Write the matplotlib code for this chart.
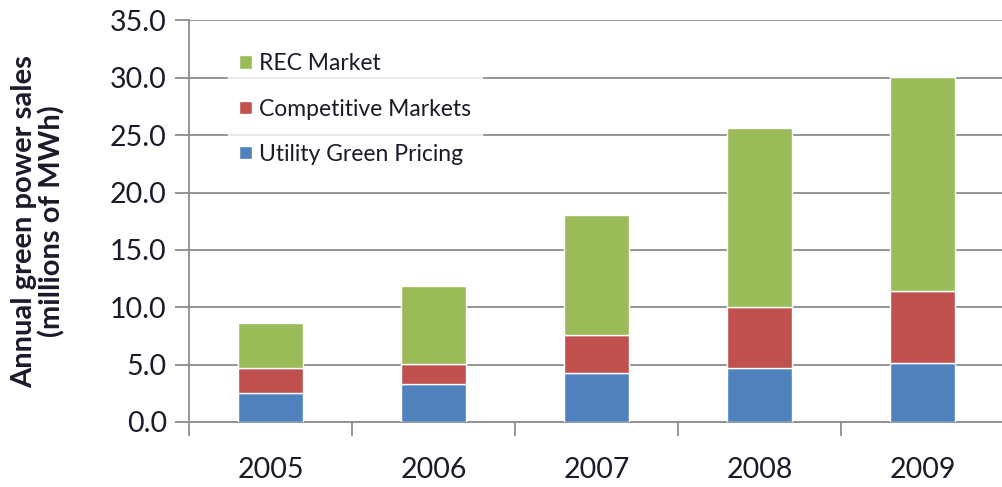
import matplotlib
matplotlib.use("Agg")
import matplotlib.pyplot as plt
import numpy as np

years = ["2005", "2006", "2007", "2008", "2009"]
utility_green_pricing = [2.5, 3.35, 4.3, 4.75, 5.15]
competitive_markets = [2.23, 1.67, 3.25, 5.3, 6.3]
rec_market = [3.92, 6.82, 10.53, 15.55, 18.6]
yticks = [0, 5, 10, 15, 20, 25, 30, 35]

plt.rcParams['font.family'] = ['Lato', 'DejaVu Sans']
txt = '#1a1a2a'

fig = plt.figure(figsize=(10.02, 4.87), dpi=100)
ax = fig.add_axes([189/1002, 1 - 422/487, 1 - 189/1002 + 0.002, (422 - 20.5)/487])

x = np.arange(len(years))
w = 0.4
b1 = ax.bar(x, utility_green_pricing, w, color='#4F81BD', edgecolor='white', linewidth=1, zorder=3, label='Utility Green Pricing')
b2 = ax.bar(x, competitive_markets, w, bottom=utility_green_pricing, color='#C0504D', edgecolor='white', linewidth=1, zorder=3, label='Competitive Markets')
bot3 = np.array(utility_green_pricing) + np.array(competitive_markets)
b3 = ax.bar(x, rec_market, w, bottom=bot3, color='#9BBB59', edgecolor='white', linewidth=1, zorder=3, label='REC Market')

ax.set_xlim(-0.5, len(years) - 0.5)
ax.set_ylim(0, 35)
ax.set_yticks(yticks)
ax.set_yticklabels([f"{v:.1f}" for v in yticks], fontsize=20.5, color=txt)
ax.yaxis.grid(True, color='#8c8c8c', linewidth=1.3, zorder=0)
ax.set_axisbelow(True)

ax.set_xticks(x)
ax.set_xticklabels(years, fontsize=20.5, color=txt)
ax.set_xticks(np.arange(-0.5, len(years), 1), minor=True)
ax.tick_params(axis='x', which='major', length=0, pad=25)
ax.tick_params(axis='x', which='minor', length=10, width=1.3, color='#8c8c8c', direction='out')
ax.tick_params(axis='y', length=10, width=1.3, color='#8c8c8c', direction='out', pad=6)

for s in ['top', 'right']:
    ax.spines[s].set_visible(False)
for s in ['left', 'bottom']:
    ax.spines[s].set_color('#8c8c8c')
    ax.spines[s].set_linewidth(1.3)

ax.set_ylabel("Annual green power sales\n(millions of MWh)", fontsize=21, fontweight='bold', color=txt, labelpad=32, linespacing=1.05)

leg = ax.legend(handles=[b3, b2, b1], loc='upper left', bbox_to_anchor=(228/1002, 1 - 42/487),
                bbox_transform=fig.transFigure, frameon=True, fontsize=16.5,
                handlelength=0.55, handleheight=0.55, handletextpad=0.3, labelspacing=1.05,
                borderpad=0.5, borderaxespad=0, fancybox=False)
leg.get_frame().set_facecolor('white')
leg.get_frame().set_edgecolor('white')
leg.set_zorder(5)
for t in leg.get_texts():
    t.set_color(txt)

fig.savefig("out.png", dpi=100)
